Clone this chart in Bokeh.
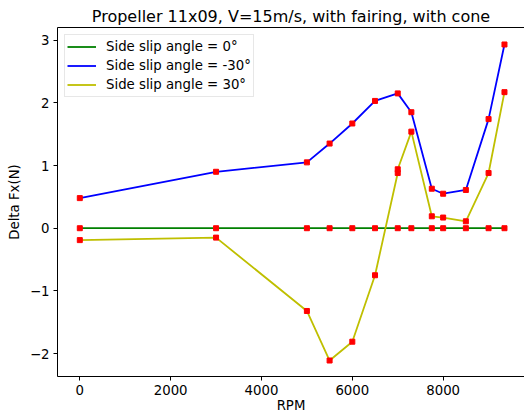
from bokeh.plotting import figure
from bokeh.models import Range1d, FixedTicker, LinearAxis, Legend, LegendItem
from bokeh.embed import file_html
from bokeh.resources import INLINE

title_text = "Propeller 11x09, V=15m/s, with fairing, with cone"
x_label = "RPM"
y_label = "Delta Fx(N)"

rpm_0 = [0, 3000, 5000, 5500, 6000, 6500, 7000, 7300, 7750, 8000, 8500, 9000, 9350]
fx_0 = [0, 0, 0, 0, 0, 0, 0, 0, 0, 0, 0, 0, 0]

rpm_m30 = [0, 3000, 5000, 5500, 6000, 6500, 7000, 7300, 7750, 8000, 8500, 9000, 9350]
fx_m30 = [0.48, 0.90, 1.05, 1.35, 1.67, 2.03, 2.15, 1.85, 0.63, 0.55, 0.61, 1.74, 2.93]

rpm_p30 = [0, 3000, 5000, 5500, 6000, 6500, 7000, 7000, 7300, 7750, 8000, 8500, 9000, 9350]
fx_p30 = [-0.19, -0.15, -1.32, -2.11, -1.81, -0.75, 0.88, 0.94, 1.54, 0.19, 0.17, 0.11, 0.88, 2.17]

labels = ["Side slip angle = 0°", "Side slip angle = -30°", "Side slip angle = 30°"]
x_ticks = [0, 2000, 4000, 6000, 8000]
y_ticks = [-2, -1, 0, 1, 2, 3]

FONT = "DejaVu Sans"
FS = "13.3px"

p = figure(width=524, height=419, output_backend="svg", toolbar_location=None,
           x_range=Range1d(-491, 9791), y_range=Range1d(-2.365, 3.201),
           min_border_left=57, min_border_right=0, min_border_top=27, min_border_bottom=43)
p.background_fill_color = "white"
p.border_fill_color = "white"
p.grid.visible = False
p.outline_line_color = None

p.title.text = title_text
p.title.align = "center"
p.title.offset = 2
p.title.text_font = FONT
p.title.text_font_size = "16px"
p.title.text_font_style = "normal"
p.title.text_color = "black"
p.title.standoff = 4

for ax in (p.xaxis[0], p.yaxis[0]):
    ax.axis_line_color = "black"
    ax.axis_line_width = 1
    ax.major_tick_line_color = "black"
    ax.major_tick_out = 4
    ax.major_tick_in = 0
    ax.minor_tick_line_color = None
    ax.major_label_text_font = FONT
    ax.major_label_text_font_size = FS
    ax.major_label_text_color = "black"
    ax.axis_label_text_font = FONT
    ax.axis_label_text_font_size = FS
    ax.axis_label_text_font_style = "normal"
    ax.axis_label_text_color = "black"

p.xaxis[0].ticker = FixedTicker(ticks=x_ticks)
p.yaxis[0].ticker = FixedTicker(ticks=y_ticks)
p.yaxis[0].major_label_overrides = {t: (("\u2212" + str(-t)) if t < 0 else str(t)) for t in y_ticks}
p.xaxis[0].axis_label = x_label
p.yaxis[0].axis_label = y_label
p.xaxis[0].major_label_standoff = 4
p.yaxis[0].major_label_standoff = 4
p.xaxis[0].axis_label_standoff = 0
p.yaxis[0].axis_label_standoff = 5

top_axis = LinearAxis(major_tick_line_color=None, minor_tick_line_color=None,
                      major_label_text_font_size="0px", axis_line_color="black",
                      major_label_standoff=0, ticker=FixedTicker(ticks=[]))
p.add_layout(top_axis, "above")

series = [(rpm_0, fx_0, "#008000"), (rpm_m30, fx_m30, "#0000ff"), (rpm_p30, fx_p30, "#bfbf00")]
items = []
for (xs, ys, col), lab in zip(series, labels):
    r = p.line(xs, ys, line_color=col, line_width=1.8)
    p.scatter(xs, ys, marker="square", size=5, fill_color="red", line_color="red")
    items.append(LegendItem(label=lab, renderers=[r]))

legend = Legend(items=items, location="top_left", margin=7, padding=2, spacing=0,
                glyph_width=29, glyph_height=19, label_height=19, label_standoff=10,
                label_text_font=FONT, label_text_font_size=FS, label_text_color="black",
                border_line_color="#d0d0d0", border_line_width=1,
                background_fill_alpha=0.8)
p.add_layout(legend, "center")

open("out.html", "w").write(file_html(p, INLINE))
